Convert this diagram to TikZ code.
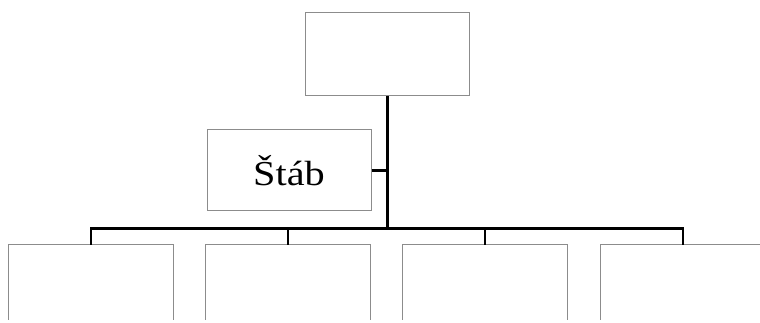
\documentclass[tikz,border=0pt]{standalone}
\usepackage{fontspec}
\setmainfont{Liberation Serif}
\begin{document}
\begin{tikzpicture}[x=1pt,y=1pt,
  orgbox/.style={draw=black!45,line width=1pt,minimum width=164pt,minimum height=83pt,inner sep=0pt,fill=white},
  openbox/.style={draw=none,minimum width=164pt,minimum height=75pt,inner sep=0pt},
  link/.style={draw=black,line width=2.2pt}]
\useasboundingbox (0,0) rectangle (760,323);
\clip (0,0) rectangle (760,323);
\node[orgbox] (top) at (387.5,268.5) {};
\node[orgbox,minimum height=81pt] (stab) at (289,152.5) {\fontsize{35}{40}\selectfont\scalebox{1.15}[1]{Štáb}};
\coordinate (bj) at (387.5,94.5);
\coordinate (sj) at (387.5,152.5);
\node[openbox] (b1) at (91,40.5) {};
\node[openbox] (b2) at (288,40.5) {};
\node[openbox] (b3) at (485,40.5) {};
\node[openbox] (b4) at (683,40.5) {};
\foreach \b in {b1,b2,b3,b4}{
  \draw[draw=black!45,line width=1pt] (\b.south west) -- (\b.north west) -- (\b.north east) -- (\b.south east);
}
\draw[link] (top.south) -- (bj);
\draw[link] (stab.east) -- (sj);
\draw[link,line join=miter] (b1.north) -- (b1.north |- bj) -- (b4.north |- bj) -- (b4.north);
\draw[link] (b2.north) -- (b2.north |- bj);
\draw[link] (b3.north) -- (b3.north |- bj);
\end{tikzpicture}
\end{document}
